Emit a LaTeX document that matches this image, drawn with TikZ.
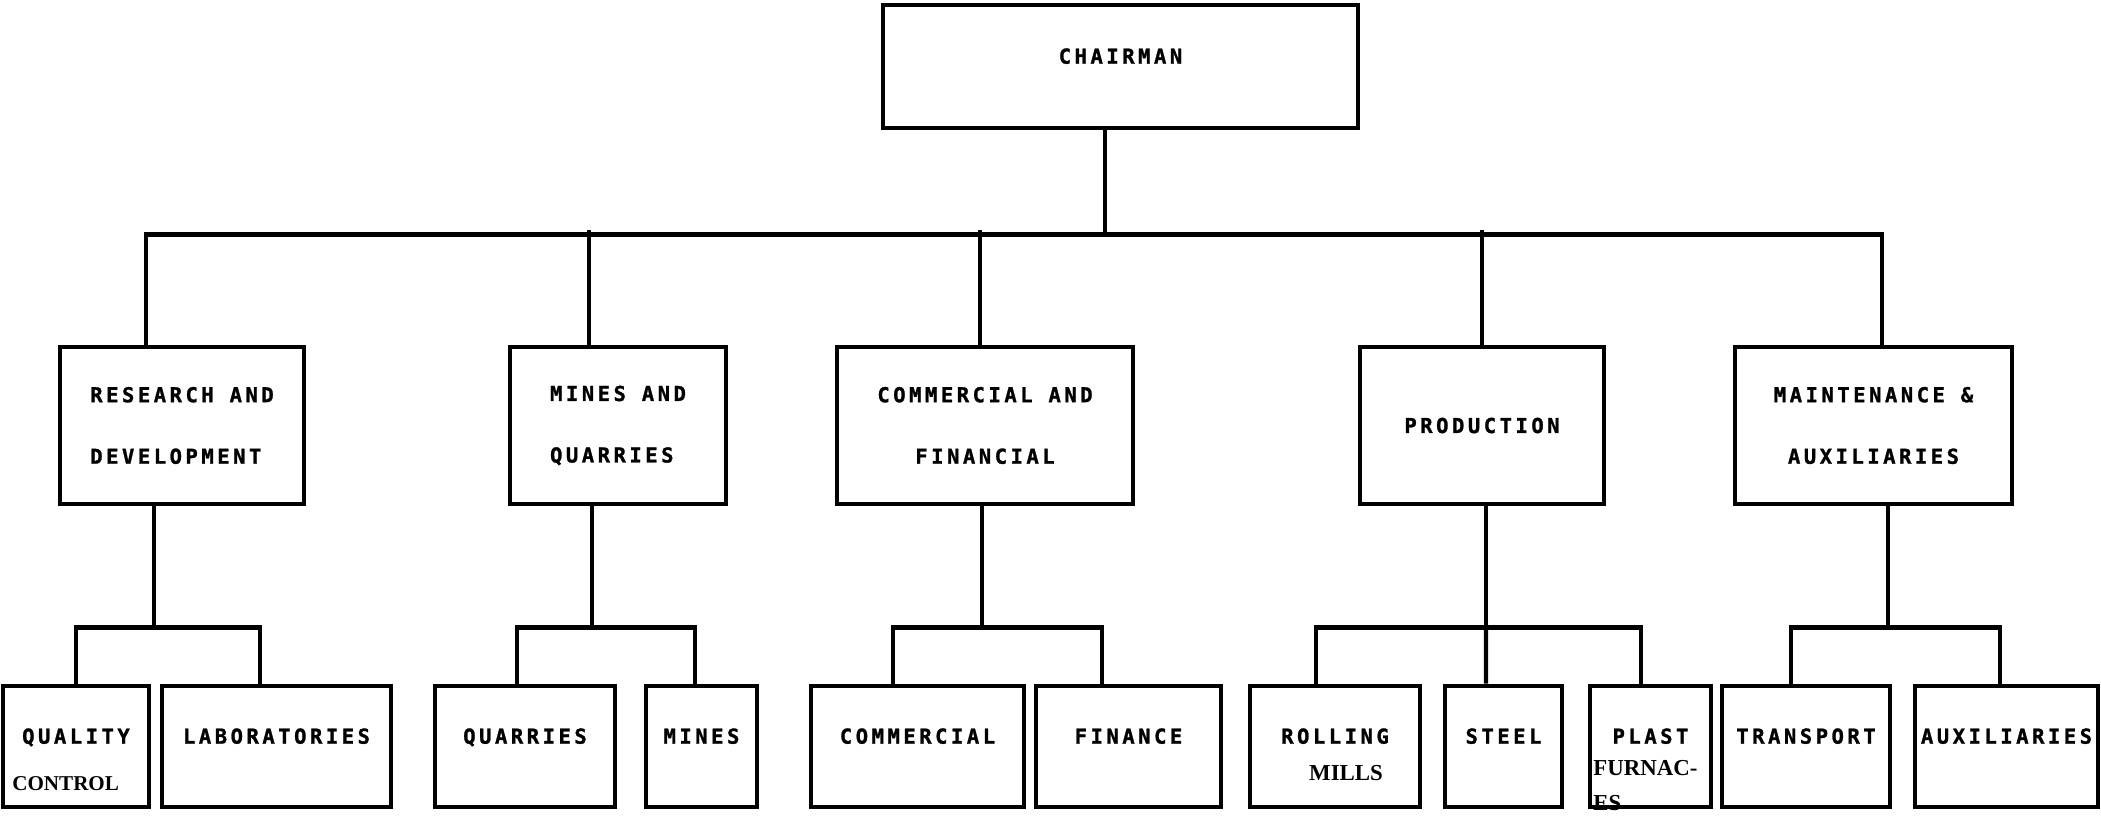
\documentclass[tikz,border=0pt]{standalone}
\usepackage{fontspec}
\usepackage{tikz}
\usetikzlibrary{positioning,calc}
\newfontfamily\typewr[LetterSpace=17, FakeBold=1.2]{DejaVu Sans Mono Bold}
\newfontfamily\typedfont{Liberation Serif Bold}

\tikzset{
  unit/.style={draw, line width=2.8pt, inner sep=2pt,
    font={\typewr\fontsize{11.7}{35}\selectfont}},
  post/.style={unit, minimum width=#1, minimum height=3.14cm},
  sect/.style={unit, minimum width=#1, minimum height=2.42cm, text depth=0.42cm},
  link/.style={line width=2.5pt},
  typed/.style={inner sep=0pt, font={\typedfont\fontsize{13}{13}\selectfont}}
}

\begin{document}
\begin{tikzpicture}
\useasboundingbox (0,0) rectangle (42.02,-16.30);

% chairman
\node[unit, minimum width=9.5cm, minimum height=2.46cm, text depth=0.42cm] (chair) at (22.41,-1.33) {CHAIRMAN};

% departments
\node[post=4.88cm, align=left] (rd) at (3.64,-8.51) {RESEARCH AND\\DEVELOPMENT};
\node[post=4.32cm, align=left] (mq) at (12.36,-8.51) {MINES AND\\QUARRIES};
\node[post=5.92cm, align=center] (cf) at (19.70,-8.51) {COMMERCIAL AND\\FINANCIAL};
\node[post=4.88cm] (pr) at (29.64,-8.51) {PRODUCTION};
\node[post=5.54cm, align=center] (ma) at (37.47,-8.51) {MAINTENANCE \&\\AUXILIARIES};

% sections
\node[sect=2.92cm] (qc) at (1.52,-14.93) {QUALITY};
\node[sect=4.58cm] (lab) at (5.53,-14.93) {LABORATORIES};
\node[sect=3.60cm] (qua) at (10.50,-14.93) {QUARRIES};
\node[sect=2.22cm] (min) at (14.03,-14.93) {MINES};
\node[sect=4.26cm] (com) at (18.35,-14.93) {COMMERCIAL};
\node[sect=3.70cm] (fin) at (22.57,-14.93) {FINANCE};
\node[sect=3.40cm] (rm) at (26.70,-14.93) {ROLLING};
\node[sect=2.34cm] (st) at (30.07,-14.93) {STEEL};
\node[sect=2.42cm] (pf) at (33.01,-14.93) {PLAST};
\node[sect=3.36cm] (tr) at (36.12,-14.93) {TRANSPORT};
\node[sect=3.66cm] (au) at (40.13,-14.93) {AUXILIARIES};

% typed-in second lines
\node[typed, anchor=base west, font={\typedfont\fontsize{12}{12}\selectfont}] (qc2) at (0.24,-15.80) {CONTROL};
\node[typed, anchor=base] (rm2) at (26.92,-15.60) {MILLS};
\node[typed, anchor=base west] (pf2) at (31.86,-15.50) {FURNAC-};
\node[typed, anchor=base west] (pf3) at (31.86,-16.20) {ES};

% top level links
\draw[link] ([xshift=-3.1mm]chair.south) -- ++(0,-2.08) coordinate (hub);
\draw[link] ([xshift=-7.2mm]rd.north) |- (hub) -| ([xshift=1.7mm]ma.north);
\foreach \n/\dx in {mq/-5.8mm, cf/-1mm, pr/0mm}
  \draw[link] ([xshift=\dx]\n.north) -- ++(0,2.3);

% department links
\draw[link] ([xshift=-5.6mm]rd.south) -- ++(0,-2.42) coordinate (j1);
\draw[link] (qc.north) |- (j1) -| ([xshift=-3.3mm]lab.north);
\draw[link] ([xshift=-5.2mm]mq.south) -- ++(0,-2.42) coordinate (j2);
\draw[link] ([xshift=-1.6mm]qua.north) |- (j2) -| ([xshift=-1.3mm]min.north);
\draw[link] ([xshift=-0.6mm]cf.south) -- ++(0,-2.42) coordinate (j3);
\draw[link] ([xshift=-4.9mm]com.north) |- (j3) -| ([xshift=-5.3mm]fin.north);
\draw[link] ([xshift=0.8mm]pr.south) -- ++(0,-2.42) coordinate (j4);
\draw[link] ([xshift=-3.8mm]rm.north) |- (j4) -| ([xshift=-1.9mm]pf.north);
\draw[link] (j4) -- ([xshift=-3.5mm]st.north);
\draw[link] ([xshift=2.9mm]ma.south) -- ++(0,-2.42) coordinate (j5);
\draw[link] ([xshift=-3mm]tr.north) |- (j5) -| ([xshift=-1.3mm]au.north);
\end{tikzpicture}
\end{document}
